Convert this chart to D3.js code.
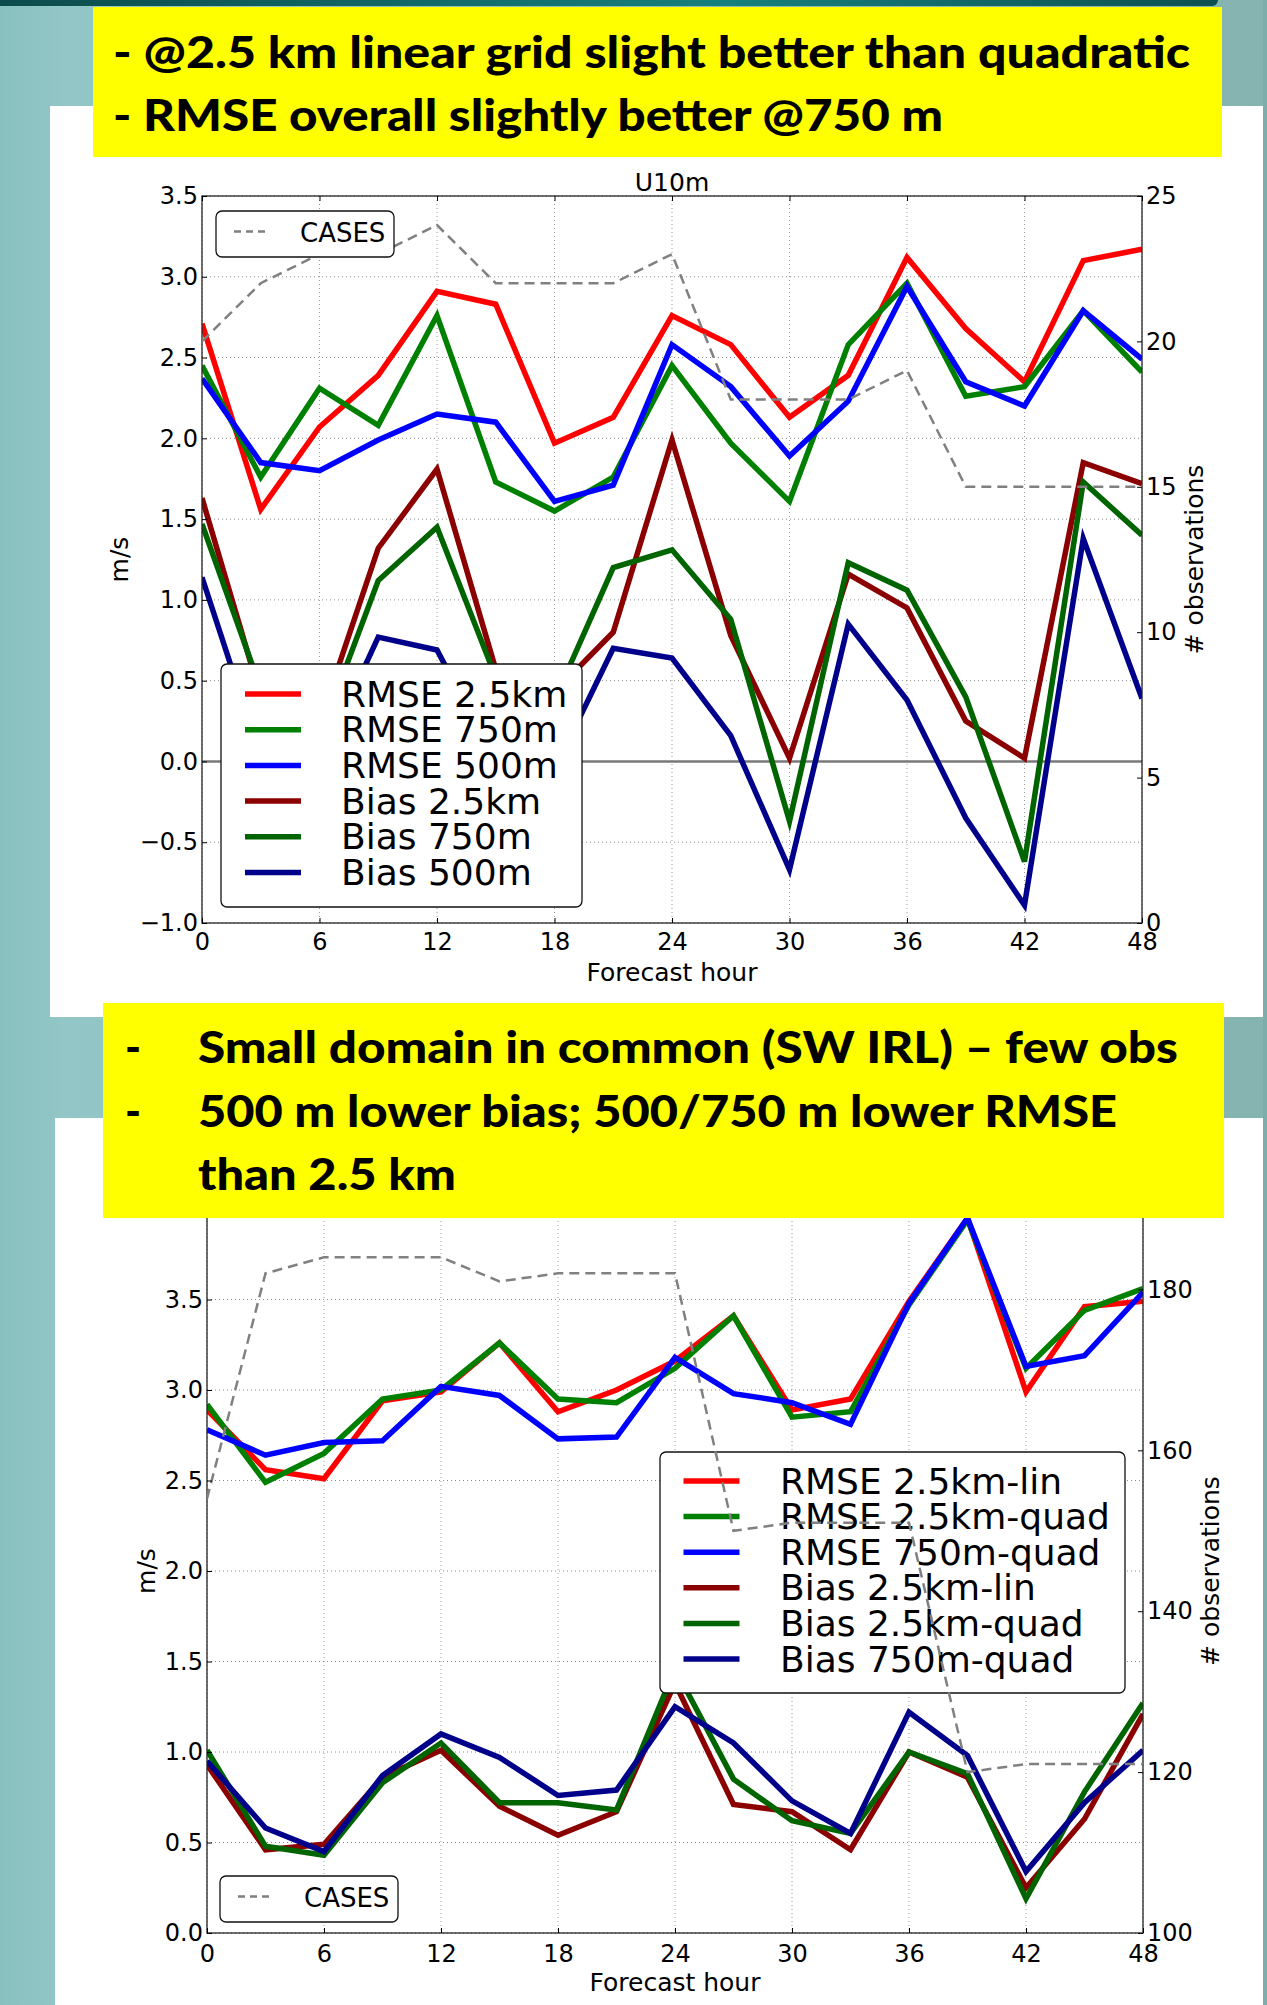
<!DOCTYPE html>
<html>
<head>
<meta charset="utf-8">
<script src="https://cdn.jsdelivr.net/npm/d3@7"></script>
<style>
  body { margin: 0; background: #8ec3c3; }
  svg { display: block; }
</style>
</head>
<body>
<div id="slide"></div>
<script>
// forecast hours (x axis of both panels)
var hours = [0, 3, 6, 9, 12, 15, 18, 21, 24, 27, 30, 33, 36, 39, 42, 45, 48];
var xTickValues = [0, 6, 12, 18, 24, 30, 36, 42, 48];

// upper panel: U10m
var u10Labels = ["RMSE 2.5km", "RMSE 750m", "RMSE 500m", "Bias 2.5km", "Bias 750m", "Bias 500m"];
var u10Rmse25 = [2.71, 1.56, 2.07, 2.39, 2.91, 2.83, 1.97, 2.13, 2.76, 2.58, 2.13, 2.39, 3.12, 2.68, 2.35, 3.10, 3.17];
var u10Rmse750 = [2.45, 1.76, 2.31, 2.08, 2.76, 1.73, 1.55, 1.76, 2.45, 1.97, 1.61, 2.58, 2.96, 2.26, 2.32, 2.79, 2.41];
var u10Rmse500 = [2.37, 1.85, 1.80, 1.99, 2.15, 2.10, 1.61, 1.71, 2.58, 2.32, 1.89, 2.23, 2.94, 2.35, 2.20, 2.79, 2.49];
var u10Bias25 = [1.63, 0.40, 0.24, 1.32, 1.81, 0.57, 0.43, 0.80, 1.99, 0.78, 0.02, 1.16, 0.95, 0.25, 0.02, 1.85, 1.72];
var u10Bias750 = [1.47, 0.45, 0.15, 1.12, 1.45, 0.52, 0.38, 1.20, 1.31, 0.88, -0.37, 1.23, 1.06, 0.40, -0.62, 1.73, 1.40];
var u10Bias500 = [1.14, 0.03, -0.02, 0.77, 0.69, 0.00, -0.05, 0.70, 0.64, 0.16, -0.67, 0.85, 0.38, -0.35, -0.89, 1.38, 0.39];
var u10Cases = [20, 22, 23, 23, 24, 22, 22, 22, 23, 18, 18, 18, 19, 15, 15, 15, 15];
var u10YTicks = [-1.0, -0.5, 0.0, 0.5, 1.0, 1.5, 2.0, 2.5, 3.0, 3.5];
var u10CaseTicks = [0, 5, 10, 15, 20, 25];

// lower panel: small common domain
var domLabels = ["RMSE 2.5km-lin", "RMSE 2.5km-quad", "RMSE 750m-quad", "Bias 2.5km-lin", "Bias 2.5km-quad", "Bias 750m-quad"];
var domRmseLin25 = [2.89, 2.56, 2.51, 2.94, 2.99, 3.26, 2.88, 3.00, 3.16, 3.41, 2.89, 2.95, 3.49, 3.95, 2.99, 3.46, 3.49];
var domRmseQuad25 = [2.92, 2.49, 2.65, 2.95, 3.00, 3.26, 2.95, 2.93, 3.12, 3.41, 2.85, 2.88, 3.47, 3.94, 3.12, 3.44, 3.56];
var domRmseQuad750 = [2.78, 2.64, 2.71, 2.72, 3.02, 2.97, 2.73, 2.74, 3.18, 2.98, 2.93, 2.81, 3.48, 3.95, 3.13, 3.19, 3.54];
var domBiasLin25 = [0.93, 0.46, 0.49, 0.86, 1.01, 0.70, 0.54, 0.67, 1.38, 0.71, 0.67, 0.46, 1.00, 0.86, 0.25, 0.63, 1.21];
var domBiasQuad25 = [1.01, 0.48, 0.43, 0.83, 1.05, 0.72, 0.72, 0.68, 1.46, 0.85, 0.62, 0.55, 1.00, 0.88, 0.19, 0.78, 1.27];
var domBiasQuad750 = [0.95, 0.58, 0.45, 0.87, 1.10, 0.97, 0.76, 0.79, 1.25, 1.05, 0.73, 0.55, 1.22, 0.98, 0.34, 0.72, 1.01];
var domCases = [154, 182, 184, 184, 184, 181, 182, 182, 182, 150, 151, 151, 151, 120, 121, 121, 121];
var domYTicks = [0.0, 0.5, 1.0, 1.5, 2.0, 2.5, 3.0, 3.5, 4.0];
var domCaseTicks = [100, 120, 140, 160, 180];

var lineColors = ["#ff0000", "#008000", "#0000ff", "#8b0000", "#006400", "#00008b"];

// slide text
var note1 = ["- @2.5 km linear grid slight better than quadratic", "- RMSE overall slightly better @750 m"];
var note2 = ["Small domain in common (SW IRL) \u2013 few obs", "500 m lower bias; 500/750 m lower RMSE", "than 2.5 km"];

var W = 1267, H = 2005;
var svg = d3.select("#slide").append("svg").attr("width", W).attr("height", H);
var defs = svg.append("defs");

// ---- slide background ----
var bgGrad = defs.append("linearGradient").attr("id", "bg").attr("x1", 0).attr("x2", 1);
bgGrad.append("stop").attr("offset", "0").attr("stop-color", "#88c0c0");
bgGrad.append("stop").attr("offset", "0.05").attr("stop-color", "#93c6c6");
bgGrad.append("stop").attr("offset", "1").attr("stop-color", "#85b3b0");
svg.append("rect").attr("width", W).attr("height", H).attr("fill", "url(#bg)");

var barGrad = defs.append("linearGradient").attr("id", "bar").attr("x1", 0).attr("x2", 1);
barGrad.append("stop").attr("offset", "0").attr("stop-color", "#0c4a4a");
barGrad.append("stop").attr("offset", "0.6").attr("stop-color", "#17807c");
barGrad.append("stop").attr("offset", "1").attr("stop-color", "#0e5050");
svg.append("rect").attr("x", -10).attr("y", -6).attr("width", 1228).attr("height", 12)
    .attr("rx", 6).attr("fill", "url(#bar)");

// white picture panels
svg.append("rect").attr("x", 50).attr("y", 106).attr("width", 1213).attr("height", 911).attr("fill", "#fff");
svg.append("rect").attr("x", 55).attr("y", 1118).attr("width", 1208).attr("height", 887).attr("fill", "#fff");
svg.append("rect").attr("x", 1263).attr("y", 0).attr("width", 4).attr("height", H).attr("fill", "#7eaeac");

function drawChart(o) {
    var g = svg.append("g");
    var x = d3.scaleLinear().domain([0, 48]).range([o.left, o.right]);
    var y = d3.scaleLinear().domain(o.yDomain).range([o.bottom, o.top]);
    var y2 = d3.scaleLinear().domain(o.y2Domain).range([o.bottom, o.top]);

    defs.append("clipPath").attr("id", o.id + "-clip")
        .append("rect")
        .attr("x", o.left).attr("y", o.top)
        .attr("width", o.right - o.left).attr("height", o.bottom - o.top);

    // dotted grid
    g.append("g").selectAll("line").data(xTickValues).enter().append("line")
        .attr("x1", function (d) { return x(d); }).attr("x2", function (d) { return x(d); })
        .attr("y1", o.top).attr("y2", o.bottom)
        .attr("stroke", "#9a9a9a").attr("stroke-width", 1).attr("stroke-dasharray", "1,3");
    g.append("g").selectAll("line").data(o.yTicks).enter().append("line")
        .attr("x1", o.left).attr("x2", o.right)
        .attr("y1", function (d) { return y(d); }).attr("y2", function (d) { return y(d); })
        .attr("stroke", "#8a8a8a").attr("stroke-width", 1).attr("stroke-dasharray", "1,3");

    if (o.zeroLine) {
        g.append("line")
            .attr("x1", o.left).attr("x2", o.right)
            .attr("y1", y(0)).attr("y2", y(0))
            .attr("stroke", "#7a7a7a").attr("stroke-width", 2.5);
    }

    var line = d3.line()
        .x(function (d, i) { return x(hours[i]); })
        .y(function (d) { return y(d); });

    var lines = g.append("g").attr("clip-path", "url(#" + o.id + "-clip)");
    o.series.forEach(function (s, i) {
        lines.append("path")
            .datum(s)
            .attr("d", line)
            .attr("fill", "none")
            .attr("stroke", lineColors[i])
            .attr("stroke-width", 5.5)
            .attr("stroke-linejoin", "miter")
            .attr("stroke-miterlimit", 4);
    });

    // frame
    g.append("rect")
        .attr("x", o.left).attr("y", o.top)
        .attr("width", o.right - o.left).attr("height", o.bottom - o.top)
        .attr("fill", "none").attr("stroke", "#222").attr("stroke-width", 1.3);

    // main legend (belongs to the left axis, so the CASES line is drawn over it)
    var lg = o.legend;
    var leg = g.append("g").attr("transform", "translate(" + lg.x + "," + lg.y + ")");
    leg.append("rect").attr("width", lg.w).attr("height", lg.h).attr("rx", 6)
        .attr("fill", "#fff").attr("stroke", "#111").attr("stroke-width", 1.3);
    var rows = leg.selectAll("g.row").data(o.labels).enter().append("g")
        .attr("class", "row")
        .attr("transform", function (d, i) { return "translate(0," + (lg.row0 + i * lg.step) + ")"; });
    rows.append("line").attr("x1", lg.lineX).attr("x2", lg.lineX + 56)
        .attr("stroke", function (d, i) { return lineColors[i]; }).attr("stroke-width", 5.5);
    rows.append("text").attr("x", lg.textX).attr("y", 12.5)
        .attr("font-family", "DejaVu Sans").attr("font-size", 36).attr("fill", "#000")
        .text(function (d) { return d; });

    // CASES on the right axis
    var caseLine = d3.line()
        .x(function (d, i) { return x(hours[i]); })
        .y(function (d) { return y2(d); });
    g.append("path")
        .datum(o.cases)
        .attr("clip-path", "url(#" + o.id + "-clip)")
        .attr("d", caseLine)
        .attr("fill", "none")
        .attr("stroke", "#808080")
        .attr("stroke-width", 2.5)
        .attr("stroke-dasharray", "10,6");

    var cl = o.casesLegend;
    var cg = g.append("g").attr("transform", "translate(" + cl.x + "," + cl.y + ")");
    cg.append("rect").attr("width", 178).attr("height", 46).attr("rx", 6)
        .attr("fill", "#fff").attr("stroke", "#111").attr("stroke-width", 1.3);
    cg.append("line").attr("x1", 18).attr("x2", 50).attr("y1", 20.5).attr("y2", 20.5)
        .attr("stroke", "#808080").attr("stroke-width", 2.5).attr("stroke-dasharray", "7,5");
    cg.append("text").attr("x", 84).attr("y", 30.5)
        .attr("font-family", "DejaVu Sans").attr("font-size", 26).text("CASES");

    // axes with inward ticks
    var fmt = d3.format(".1f");
    function styleAxis(sel) {
        sel.select(".domain").remove();
        sel.selectAll("line").attr("stroke", "#000").attr("stroke-width", 1);
        sel.selectAll("text").attr("font-family", "DejaVu Sans").attr("font-size", 24).attr("fill", "#000");
    }
    g.append("g").attr("transform", "translate(0," + o.bottom + ")")
        .call(d3.axisBottom(x).tickValues(xTickValues).tickSizeInner(-5).tickSizeOuter(0).tickPadding(o.xPad))
        .call(styleAxis);
    g.append("g").attr("transform", "translate(0," + o.top + ")")
        .call(d3.axisTop(x).tickValues(xTickValues).tickSizeInner(-5).tickSizeOuter(0).tickFormat(""))
        .call(styleAxis);
    g.append("g").attr("transform", "translate(" + o.left + ",0)")
        .call(d3.axisLeft(y).tickValues(o.yTicks).tickFormat(fmt).tickSizeInner(-5).tickSizeOuter(0).tickPadding(4))
        .call(styleAxis);
    g.append("g").attr("transform", "translate(" + o.right + ",0)")
        .call(d3.axisRight(y2).tickValues(o.caseTicks).tickFormat(d3.format("d")).tickSizeInner(-5).tickSizeOuter(0).tickPadding(4))
        .call(styleAxis);

    // axis titles
    g.append("text").attr("x", (o.left + o.right) / 2).attr("y", o.xLabelY)
        .attr("text-anchor", "middle").attr("font-family", "DejaVu Sans").attr("font-size", 25)
        .text("Forecast hour");
    g.append("text")
        .attr("transform", "translate(" + o.yLabelX + "," + o.yLabelMid + ") rotate(-90)")
        .attr("text-anchor", "middle").attr("font-family", "DejaVu Sans").attr("font-size", 25)
        .text("m/s");
    g.append("text")
        .attr("transform", "translate(" + o.y2LabelX + "," + o.yLabelMid + ") rotate(-90)")
        .attr("text-anchor", "middle").attr("font-family", "DejaVu Sans").attr("font-size", 25)
        .text("# observations");
    if (o.title) {
        g.append("text").attr("x", (o.left + o.right) / 2).attr("y", o.top - 5)
            .attr("text-anchor", "middle").attr("font-family", "DejaVu Sans").attr("font-size", 25)
            .text(o.title);
    }
}

drawChart({
    id: "u10", title: "U10m",
    left: 202, right: 1142, top: 196, bottom: 923,
    yDomain: [-1, 3.5], y2Domain: [0, 25],
    yTicks: u10YTicks, caseTicks: u10CaseTicks,
    series: [u10Rmse25, u10Rmse750, u10Rmse500, u10Bias25, u10Bias750, u10Bias500],
    labels: u10Labels, cases: u10Cases, zeroLine: true,
    legend: { x: 221, y: 664, w: 361, h: 243, row0: 30, step: 35.7, lineX: 24, textX: 120 },
    casesLegend: { x: 216, y: 211 },
    xPad: 10, xLabelY: 981, yLabelX: 128, y2LabelX: 1203, yLabelMid: 559.5
});

drawChart({
    id: "dom", title: null,
    left: 207, right: 1143, top: 1209, bottom: 1933,
    yDomain: [0, 4], y2Domain: [100, 190],
    yTicks: domYTicks, caseTicks: domCaseTicks,
    series: [domRmseLin25, domRmseQuad25, domRmseQuad750, domBiasLin25, domBiasQuad25, domBiasQuad750],
    labels: domLabels, cases: domCases, zeroLine: false,
    legend: { x: 660, y: 1452, w: 465, h: 241, row0: 29, step: 35.6, lineX: 23.5, textX: 120 },
    casesLegend: { x: 220, y: 1876 },
    xPad: 12, xLabelY: 1991, yLabelX: 155, y2LabelX: 1219, yLabelMid: 1571
});

// ---- yellow note boxes ----
svg.append("rect").attr("x", 93).attr("y", 7).attr("width", 1129).attr("height", 150).attr("fill", "#ffff00");
var n1 = svg.append("g");
n1.selectAll("text").data(note1).enter().append("text")
    .attr("x", 113)
    .attr("y", function (d, i) { return [68, 131][i]; })
    .attr("textLength", function (d, i) { return [1077, 830][i]; })
    .attr("lengthAdjust", "spacingAndGlyphs")
    .attr("font-family", "Lato, 'Open Sans', sans-serif").attr("font-weight", 900).attr("font-size", 43)
    .text(function (d) { return d; });

svg.append("rect").attr("x", 103).attr("y", 1003).attr("width", 1121).attr("height", 215).attr("fill", "#ffff00");
var n2 = svg.append("g");
n2.selectAll("text.lead").data([0, 1]).enter().append("text")
    .attr("class", "lead")
    .attr("x", 125).attr("y", function (d) { return [1063, 1127][d]; })
    .attr("font-family", "Lato, 'Open Sans', sans-serif").attr("font-weight", 900).attr("font-size", 43)
    .text("-");
n2.selectAll("text.body").data(note2).enter().append("text")
    .attr("class", "body")
    .attr("x", 198)
    .attr("y", function (d, i) { return [1063, 1127, 1190][i]; })
    .attr("textLength", function (d, i) { return [980, 919, 258][i]; })
    .attr("lengthAdjust", "spacingAndGlyphs")
    .attr("font-family", "Lato, 'Open Sans', sans-serif").attr("font-weight", 900).attr("font-size", 43)
    .text(function (d) { return d; });
</script>
</body>
</html>
